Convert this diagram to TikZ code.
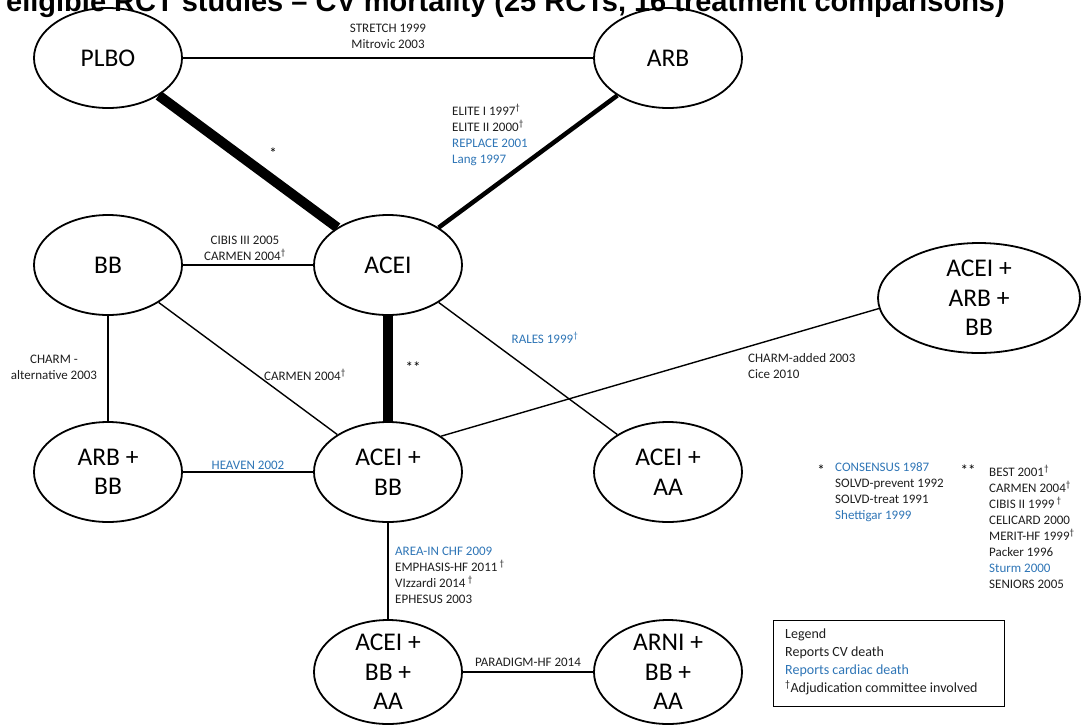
\documentclass[tikz,border=0pt]{standalone}
\usepackage{fontspec}
\setmainfont{Carlito}
\newfontfamily\titlefont{Liberation Sans}
\usetikzlibrary{shapes.geometric}
\definecolor{refblue}{RGB}{46,117,182}
\definecolor{ink}{RGB}{30,30,30}

\begin{document}
\begin{tikzpicture}[x=1pt,y=-1pt,
  drug/.style={draw, ellipse, line width=1.8pt, minimum width=148pt,
    minimum height=100pt, inner sep=0pt},
  drugtext/.style={align=center, inner sep=0pt, text=black,
    font=\fontsize{25.5}{29.5}\selectfont},
  lbl/.style={align=center, inner sep=0pt, text=ink,
    font=\fontsize{13}{16}\selectfont},
  lbll/.style={lbl, align=left, anchor=west},
  star/.style={inner sep=0pt, font=\fontsize{15}{16}\selectfont},
  edge/.style={line width=1.4pt},
  medium/.style={line width=4.5pt},
  heavy/.style={line width=10pt}]
\useasboundingbox (0,0) rectangle (1081,724);
\clip (0,0) rectangle (1081,724);

% title (only its lower part falls inside the page)
\node[anchor=base east, inner sep=0pt, font=\titlefont\bfseries\fontsize{29}{32}\selectfont]
  (title) at (1005,11) {eligible RCT studies – CV mortality (25 RCTs, 16 treatment comparisons)};

% treatment nodes
\node[drug] (plbo)   at (108,58)  {};
\node[drug] (arb)    at (668,58)  {};
\node[drug] (bb)     at (108,265) {};
\node[drug] (acei)   at (388,265) {};
\node[drug, minimum width=202pt, minimum height=110pt] (aab) at (979,298) {};
\node[drug] (arbbb)  at (108,472) {};
\node[drug] (acbb)   at (388,472) {};
\node[drug] (acaa)   at (668,472) {};
\node[drug, minimum height=104pt] (acbbaa) at (388,672) {};
\node[drug, minimum height=104pt] (arni)   at (668,672) {};

\node[drugtext] (plbo-t)   at (plbo)   {PLBO};
\node[drugtext] (arb-t)    at (arb)    {ARB};
\node[drugtext] (bb-t)     at (bb)     {BB};
\node[drugtext] (acei-t)   at (acei)   {ACEI};
\node[drugtext] (aab-t)    at (aab)    {ACEI +\\ARB +\\BB};
\node[drugtext] (arbbb-t)  at (arbbb)  {ARB +\\BB};
\node[drugtext] (acbb-t)   at (acbb)   {ACEI +\\BB};
\node[drugtext] (acaa-t)   at (acaa)   {ACEI +\\AA};
\node[drugtext] (acbbaa-t) at (acbbaa) {ACEI +\\BB +\\AA};
\node[drugtext] (arni-t)   at (arni)   {ARNI +\\BB +\\AA};

% comparisons
\draw[line width=2pt] (plbo) -- (arb);
\draw[heavy]  (plbo) -- (acei);
\draw[medium] (arb) -- (acei);
\draw[edge]   (bb) -- (acei);
\draw[heavy]  (acei) -- (acbb);
\draw[edge]   (acei) -- (acaa);
\draw[edge]   (bb) -- (acbb);
\draw[edge]   (bb) -- (arbbb);
\draw[edge]   (arbbb) -- (acbb);
\draw[edge]   (acbb.34) -- (aab.186);
\draw[edge]   (acbb) -- (acbbaa);
\draw[edge]   (acbbaa) -- (arni);

% comparison labels
\node[lbl] (l-plbo-arb) at (388,36) {STRETCH 1999\\Mitrovic 2003};
\node[star] (l-plbo-acei) at (273,153) {*};
\node[lbll] (l-arb-acei) at (452,135) {ELITE I 1997\textsuperscript{†}\\ELITE II 2000\textsuperscript{†}\\
  \textcolor{refblue}{REPLACE 2001}\\\textcolor{refblue}{Lang 1997}};
\node[lbl] (l-bb-acei) at (245,248) {CIBIS III 2005\\CARMEN 2004\textsuperscript{†}};
\node[lbl] (l-bb-arbbb) at (54,367) {CHARM -\\alternative 2003};
\node[lbl] (l-bb-acbb) at (305,375) {CARMEN 2004\textsuperscript{†}};
\node[star] (l-acei-acbb) at (413,367) {**};
\node[lbl, text=refblue] (l-acei-acaa) at (545,338) {RALES 1999\textsuperscript{†}};
\node[lbll] (l-acbb-aab) at (748,366) {CHARM-added 2003\\Cice 2010};
\node[lbl, text=refblue] (l-arbbb-acbb) at (248,465) {HEAVEN 2002};
\node[lbll] (l-acbb-acbbaa) at (395,575) {\textcolor{refblue}{AREA-IN CHF 2009}\\EMPHASIS-HF 2011\,\textsuperscript{†}\\
  VIzzardi 2014\,\textsuperscript{†}\\EPHESUS 2003};
\node[lbl] (l-acbbaa-arni) at (528,662) {PARADIGM-HF 2014};

% footnotes for the starred comparisons
\node[star] (n-star1) at (821,470) {*};
\node[lbll] (n-list1) at (835,492) {\textcolor{refblue}{CONSENSUS 1987}\\SOLVD-prevent 1992\\
  SOLVD-treat 1991\\\textcolor{refblue}{Shettigar 1999}};
\node[star] (n-star2) at (968,470) {**};
\node[lbll] (n-list2) at (989,527) {BEST 2001\textsuperscript{†}\\CARMEN 2004\textsuperscript{†}\\
  CIBIS II 1999\,\textsuperscript{†}\\CELICARD 2000\\MERIT-HF 1999\textsuperscript{†}\\
  Packer 1996\\\textcolor{refblue}{Sturm 2000}\\SENIORS 2005};

% legend
\node[draw, line width=1.3pt, anchor=north west, minimum width=231pt,
  minimum height=86pt, inner sep=0pt] (legend) at (773,620) {};
\node[lbll, font=\fontsize{14}{18}\selectfont] (legend-t) at (785,662)
  {Legend\\Reports CV death\\\textcolor{refblue}{Reports cardiac death}\\
  \textsuperscript{†}Adjudication committee involved};
\end{tikzpicture}
\end{document}
